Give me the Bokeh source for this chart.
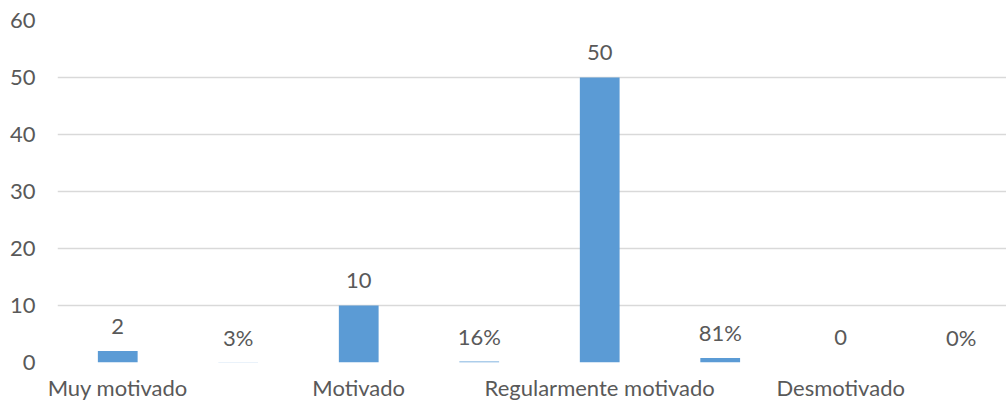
from bokeh.plotting import figure
from bokeh.models import ColumnDataSource, FixedTicker, Range1d
from bokeh.core.properties import value
from bokeh.embed import file_html
from bokeh.resources import INLINE

# Survey results: number of respondents per motivation level and their share
categories = ["Muy motivado", "Motivado", "Regularmente motivado", "Desmotivado"]
counts = [2, 10, 50, 0]
percents = [3, 16, 81, 0]
y_ticks = [0, 10, 20, 30, 40, 50, 60]

FONT = "Lato"
TEXT = "#595959"
BAR = "#5B9BD5"
GRID = "#D9D9D9"

# Each category takes two slots: the count, then its percentage (as a fraction)
xs, heights, labels = [], [], []
for i, (c, pc) in enumerate(zip(counts, percents)):
    xs += [2 * i + 0.5, 2 * i + 1.5]
    heights += [c, pc / 100]
    labels += [str(c), f"{pc}%"]

src = ColumnDataSource(dict(x=xs, top=heights, label=labels))

p = figure(width=1006, height=408, output_backend="svg", toolbar_location=None,
           x_range=Range1d(0, 7.876), y_range=Range1d(0, 60),
           min_border_left=57, min_border_right=0, min_border_top=20, min_border_bottom=46)
p.outline_line_color = None
p.background_fill_color = "white"
p.border_fill_color = "white"

p.vbar(x="x", top="top", width=0.33, source=src, fill_color=BAR, line_color=None)
p.text(x="x", y="top", text="label", source=src, y_offset=-25,
       text_align="center", text_baseline="alphabetic",
       text_font=value(FONT), text_font_size="22px", text_color=TEXT)

p.xgrid.grid_line_color = None
p.ygrid.grid_line_color = GRID
p.ygrid.grid_line_width = 1.5
p.ygrid.ticker = FixedTicker(ticks=y_ticks)

p.yaxis.ticker = FixedTicker(ticks=y_ticks)
p.yaxis.axis_line_color = None
p.yaxis.major_tick_line_color = None
p.yaxis.minor_tick_line_color = None
p.yaxis.major_label_standoff = 16
p.yaxis.major_label_text_font = FONT
p.yaxis.major_label_text_font_size = "22px"
p.yaxis.major_label_text_color = TEXT

p.xaxis.ticker = FixedTicker(ticks=[2 * i + 0.5 for i in range(len(categories))])
p.xaxis.major_label_overrides = {2 * i + 0.5: name for i, name in enumerate(categories)}
p.xaxis.axis_line_color = None
p.xaxis.major_tick_line_color = None
p.xaxis.minor_tick_line_color = None
p.xaxis.major_label_standoff = 5
p.xaxis.major_label_text_font = FONT
p.xaxis.major_label_text_font_size = "22px"
p.xaxis.major_label_text_color = TEXT

open("out.html", "w").write(file_html(p, INLINE))
